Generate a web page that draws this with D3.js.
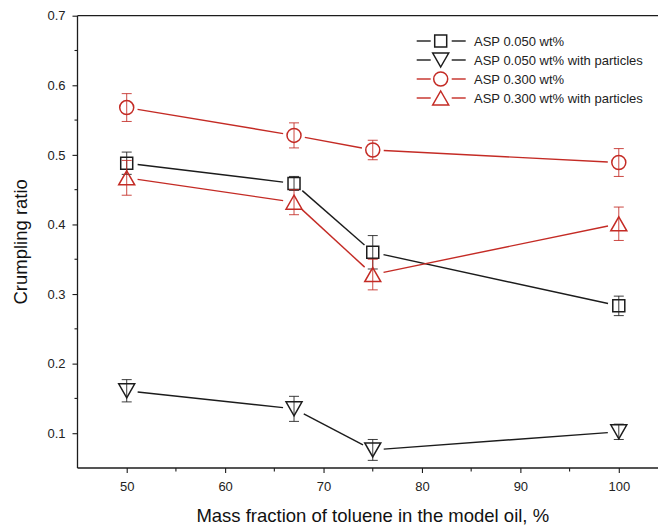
<!DOCTYPE html>
<html>
<head>
<meta charset="utf-8">
<script src="https://cdn.jsdelivr.net/npm/d3@7"></script>
<style>
  html, body { margin: 0; padding: 0; background: #fff; }
  svg { display: block; font-family: "Liberation Sans", Arial, sans-serif; }
</style>
</head>
<body>
<svg id="chart" width="658" height="530"></svg>
<script>
// ---- data ----
const xValues = [50, 67, 75, 100];
const asp050 = [0.488, 0.459, 0.360, 0.283];
const asp050Err = [0.016, 0.010, 0.024, 0.014];
const asp050p = [0.161, 0.135, 0.076, 0.102];
const asp050pErr = [0.016, 0.018, 0.015, 0.011];
const asp300 = [0.568, 0.528, 0.507, 0.489];
const asp300Err = [0.020, 0.018, 0.014, 0.020];
const asp300p = [0.467, 0.432, 0.328, 0.401];
const asp300pErr = [0.025, 0.018, 0.022, 0.024];
const seriesNames = ["ASP 0.050 wt%", "ASP 0.050 wt% with particles", "ASP 0.300 wt%", "ASP 0.300 wt% with particles"];
const xTicks = [50, 60, 70, 80, 90, 100];
const yTicks = [0.1, 0.2, 0.3, 0.4, 0.5, 0.6, 0.7];
const xTitle = "Mass fraction of toluene in the model oil, %";
const yTitle = "Crumpling ratio";

const BLACK = "#1c1c1c", RED = "#c42b25";
const series = [
  {name: seriesNames[0], y: asp050, e: asp050Err, color: BLACK, sym: "square"},
  {name: seriesNames[1], y: asp050p, e: asp050pErr, color: BLACK, sym: "tdown"},
  {name: seriesNames[2], y: asp300, e: asp300Err, color: RED, sym: "circle"},
  {name: seriesNames[3], y: asp300p, e: asp300pErr, color: RED, sym: "tup"}
];

const svg = d3.select("#chart");
const mLeft = 77.5, mTop = 15.7, mBottom = 468, mRight = 668;
const x = d3.scaleLinear().domain([45, 105]).range([mLeft, mRight]);
const y = d3.scaleLinear().domain([0.05, 0.7]).range([mBottom, mTop]);

function symPath(sym) {
  if (sym === "square") return "M-6,-6H6V6H-6Z";
  if (sym === "tup") return "M0,-7L8,7H-8Z";
  if (sym === "tdown") return "M0,7L8,-7H-8Z";
  const p = d3.path(); p.arc(0, 0, 7, 0, 2 * Math.PI); p.closePath(); return p.toString();
}

// frame
const g = svg.append("g");
g.append("line").attr("x1", mLeft).attr("x2", mRight).attr("y1", mTop).attr("y2", mTop)
  .attr("stroke", BLACK).attr("stroke-width", 1.3);

// y axis
const yAxis = d3.axisLeft(y).tickValues(yTicks).tickSize(5).tickPadding(7).tickFormat(d3.format(".1f"));
const ya = g.append("g").attr("transform", `translate(${mLeft},0)`).call(yAxis);
ya.select(".domain").attr("stroke", BLACK).attr("stroke-width", 1.3).attr("d", `M0,${mBottom}V${mTop}`);
ya.selectAll(".tick line").attr("stroke", BLACK).attr("stroke-width", 1.1);
ya.selectAll(".tick text").attr("font-size", 13).attr("fill", "#222").attr("font-family", "Liberation Sans, Arial, sans-serif");
const yMinor = [0.15, 0.25, 0.35, 0.45, 0.55, 0.65];
g.append("g").selectAll("line").data(yMinor).join("line")
  .attr("x1", mLeft - 3).attr("x2", mLeft).attr("y1", d => y(d)).attr("y2", d => y(d))
  .attr("stroke", BLACK).attr("stroke-width", 1.1);

// x axis
const xAxis = d3.axisBottom(x).tickValues(xTicks).tickSize(5).tickPadding(9).tickFormat(d3.format("d"));
const xa = g.append("g").attr("transform", `translate(0,${mBottom})`).call(xAxis);
xa.select(".domain").attr("stroke", BLACK).attr("stroke-width", 1.3).attr("d", `M${mLeft},0H${mRight}`);
xa.selectAll(".tick line").attr("stroke", BLACK).attr("stroke-width", 1.1);
xa.selectAll(".tick text").attr("font-size", 13).attr("fill", "#222").attr("font-family", "Liberation Sans, Arial, sans-serif");
const xMinor = [55, 65, 75, 85, 95, 105];
g.append("g").selectAll("line").data(xMinor).join("line")
  .attr("x1", d => x(d)).attr("x2", d => x(d)).attr("y1", mBottom).attr("y2", mBottom + 3.5)
  .attr("stroke", BLACK).attr("stroke-width", 1.1);

// titles
svg.append("text").attr("x", (mLeft + mRight) / 2).attr("y", 521.5).attr("text-anchor", "middle")
  .attr("font-size", 18.5).attr("fill", "#111").text(xTitle);
svg.append("text").attr("transform", `translate(27,${(mTop + mBottom) / 2}) rotate(-90)`).attr("text-anchor", "middle")
  .attr("font-size", 18.5).attr("fill", "#111").text(yTitle);

// data
const GAP = 11;
series.forEach(s => {
  const pts = xValues.map((xv, i) => [x(xv), y(s.y[i])]);
  const sg = svg.append("g");
  for (let i = 0; i < pts.length - 1; i++) {
    const [x1, y1] = pts[i], [x2, y2] = pts[i + 1];
    const dx = x2 - x1, dy = y2 - y1, L = Math.hypot(dx, dy);
    const ux = dx / L, uy = dy / L;
    sg.append("line").attr("x1", x1 + ux * GAP).attr("y1", y1 + uy * GAP)
      .attr("x2", x2 - ux * GAP).attr("y2", y2 - uy * GAP)
      .attr("stroke", s.color).attr("stroke-width", 1.4);
  }
  xValues.forEach((xv, i) => {
    const cx = x(xv), y1 = y(s.y[i] + s.e[i]), y2 = y(s.y[i] - s.e[i]);
    sg.append("line").attr("x1", cx).attr("x2", cx).attr("y1", y1).attr("y2", y2)
      .attr("stroke", s.color).attr("stroke-width", 1).attr("opacity", 0.85);
    [y1, y2].forEach(yy => sg.append("line").attr("x1", cx - 5).attr("x2", cx + 5).attr("y1", yy).attr("y2", yy)
      .attr("stroke", s.color).attr("stroke-width", 1).attr("opacity", 0.85));
  });
  sg.selectAll("path.m").data(pts).join("path").attr("class", "m")
    .attr("transform", d => `translate(${d[0]},${d[1]})`)
    .attr("d", symPath(s.sym)).attr("fill", "none").attr("stroke", s.color).attr("stroke-width", 1.5);
});

// legend
const lg = svg.append("g");
series.forEach((s, i) => {
  const ly = 41 + i * 19;
  lg.append("line").attr("x1", 416.7).attr("x2", 430.7).attr("y1", ly).attr("y2", ly).attr("stroke", s.color).attr("stroke-width", 1.4);
  lg.append("line").attr("x1", 451.7).attr("x2", 465.7).attr("y1", ly).attr("y2", ly).attr("stroke", s.color).attr("stroke-width", 1.4);
  lg.append("path").attr("transform", `translate(440.7,${ly})`).attr("d", symPath(s.sym))
    .attr("fill", "none").attr("stroke", s.color).attr("stroke-width", 1.5);
  lg.append("text").attr("x", 474).attr("y", ly).attr("dy", "0.35em").attr("font-size", 13).attr("fill", "#222").text(s.name);
});
</script>
</body>
</html>
